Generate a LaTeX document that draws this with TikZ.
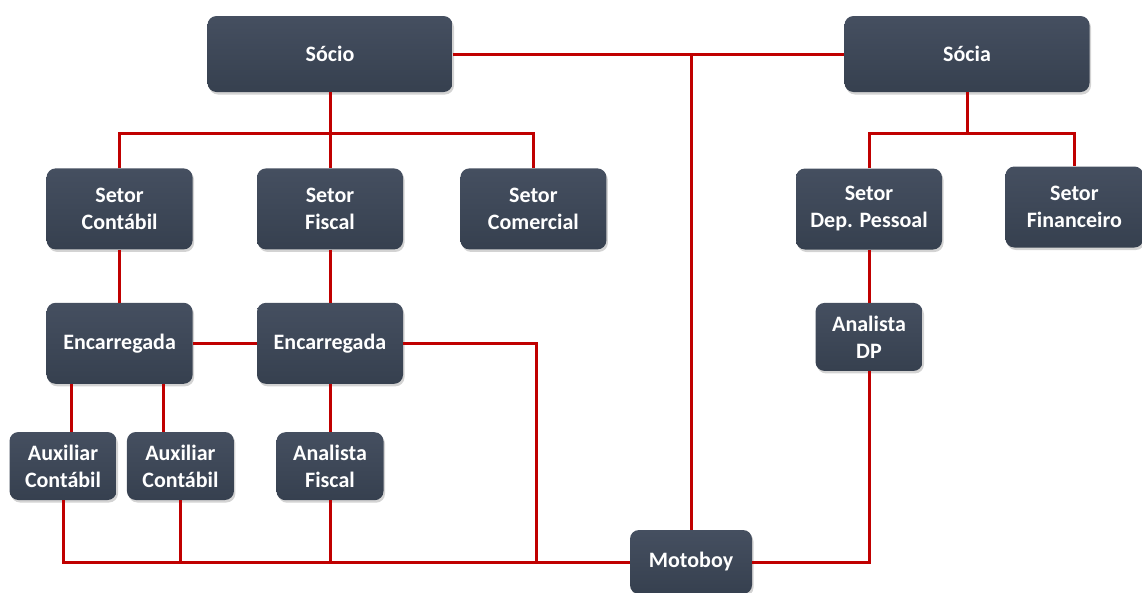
\documentclass[tikz,border=0pt]{standalone}
\usepackage{fontspec}
\setmainfont{Carlito}
\usetikzlibrary{positioning,shadows}

\definecolor{boxtop}{HTML}{454F60}
\definecolor{boxbottom}{HTML}{36404F}
\definecolor{linkred}{HTML}{C00000}

\begin{document}
\begin{tikzpicture}[
		x=1pt, y=1pt,
		every node/.style={font=\fontsize{22}{27}\selectfont\bfseries},
		box/.style={
				rounded corners=9pt,
				top color=boxtop,
				bottom color=boxbottom,
				text=white,
				align=center,
				inner sep=2pt,
				drop shadow={shadow xshift=1.5pt, shadow yshift=-2.5pt, opacity=0.35}
		},
		head/.style={box, minimum width=245pt, minimum height=76pt},
		setor/.style={box, minimum width=146pt, minimum height=81pt},
		cargo/.style={box, minimum width=107pt, minimum height=68pt},
		link/.style={draw=linkred, line width=3pt}
	]

	\useasboundingbox (0,0) rectangle (1142,-592);

	% Partners
	\node[head] (socio) at (330,-54) {Sócio};
	\node[head] (socia) at (967,-54) {Sócia};

	% Sectors under the partners
	\node[setor, below=76pt of socio] (fiscal) {Setor\\Fiscal};
	\node[setor, left=64pt of fiscal] (contabil) {Setor\\Contábil};
	\node[setor, right=57pt of fiscal] (comercial) {Setor\\Comercial};

	\node[setor] (dp) at (869,-209) {Setor\\Dep. Pessoal};
	\node[setor, minimum width=138pt, right=63pt of dp, yshift=2pt] (financeiro) {Setor\\Financeiro};

	% Supervisors
	\node[setor, below=53pt of contabil] (enc1) {Encarregada};
	\node[setor, below=53pt of fiscal] (enc2) {Encarregada};

	% Staff
	\node[cargo] (aux1) at (63,-466) {Auxiliar\\Contábil};
	\node[cargo, right=10pt of aux1] (aux2) {Auxiliar\\Contábil};
	\node[cargo, below=48pt of enc2] (anfiscal) {Analista\\Fiscal};
	\node[cargo, below=53pt of dp] (andp) {Analista\\DP};

	\node[box, minimum width=122pt, minimum height=64pt] (motoboy) at (691,-562) {Motoboy};

	% Junctions below the partners
	\coordinate[below=41pt of socio] (socio-j);
	\coordinate[below=41pt of socia] (socia-j);

	% Connectors
	\draw[link] (socio) -- (socia);
	\draw[link] (motoboy.north) -- (motoboy.north |- socio.east);

	\draw[link] (socio.south) -- (fiscal.north);
	\draw[link] (contabil.north) |- (socio-j) -| (comercial.north);
	\draw[link] (socia.south) -- (socia-j);
	\draw[link] (dp.north) |- (socia-j) -| (financeiro.north);

	\draw[link] (contabil) -- (enc1);
	\draw[link] (fiscal) -- (enc2);
	\draw[link] (enc1) -- (enc2);
	\draw[link] (dp) -- (andp);
	\draw[link] (enc2) -- (anfiscal);

	\draw[link] ([xshift=-48pt]enc1.south) -- ([xshift=-48pt]enc1.south |- aux1.north);
	\draw[link] ([xshift=44pt]enc1.south) -- ([xshift=44pt]enc1.south |- aux2.north);

	% Lines to the motoboy
	\draw[link] (enc2.east) -- ++(133pt,0) |- (motoboy.west);
	\draw[link] (aux1.south) |- (motoboy.west);
	\draw[link] (aux2.south) -- (aux2.south |- motoboy.west);
	\draw[link] (anfiscal.south) -- (anfiscal.south |- motoboy.west);
	\draw[link] (motoboy.east) -| (andp.south);

\end{tikzpicture}
\end{document}
